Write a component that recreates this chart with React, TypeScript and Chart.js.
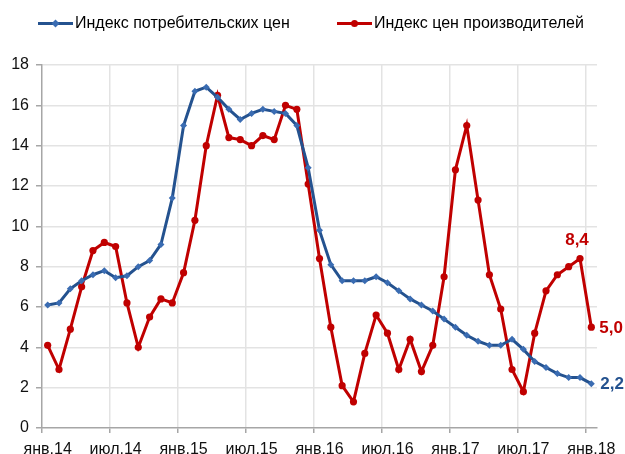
import React, { useEffect, useRef } from "react";
import { Chart, registerables } from "chart.js";

Chart.register(...registerables);

const months = ["янв", "фев", "мар", "апр", "май", "июн", "июл", "авг", "сен", "окт", "ноя", "дек"];
const categories: string[] = [];
for (let y = 14; y <= 18; y++) {
  for (let m = 0; m < 12; m++) {
    if (y === 18 && m > 0) break;
    categories.push(`${months[m]}.${y}`);
  }
}

const cpi = [
  6.1, 6.2, 6.9, 7.3, 7.6, 7.8, 7.45, 7.55, 8.0, 8.3, 9.1, 11.4,
  15.0, 16.7, 16.9, 16.4, 15.8, 15.3, 15.6, 15.8, 15.7, 15.6, 15.0, 12.9,
  9.8, 8.1, 7.3, 7.3, 7.3, 7.5, 7.2, 6.8, 6.4, 6.1, 5.8, 5.4,
  5.0, 4.6, 4.3, 4.1, 4.1, 4.4, 3.9, 3.3, 3.0, 2.7, 2.5, 2.5,
  2.2,
];

const ppi = [
  4.1, 2.9, 4.9, 7.0, 8.8, 9.2, 9.0, 6.2, 4.0, 5.5, 6.4, 6.2,
  7.7, 10.3, 14.0, 16.5, 14.4, 14.3, 14.0, 14.5, 14.3, 16.0, 15.8, 12.1,
  8.4, 5.0, 2.1, 1.3, 3.7, 5.6, 4.7, 2.9, 4.4, 2.8, 4.1, 7.5,
  12.8, 15.0, 11.3, 7.6, 5.9, 2.9, 1.8, 4.7, 6.8, 7.6, 8.0, 8.4,
  5.0,
];

const seriesNames = ["Индекс потребительских цен", "Индекс цен производителей"];

const BLUE = "#24528f";
const BLUE_PT = "#3a6cb2";
const RED = "#c00000";
const FONT = "'Liberation Sans', Arial, sans-serif";

const legendPlugin = {
  id: "customLegend",
  afterDraw(chart: any) {
    const ctx = chart.ctx;
    const items = [
      { x: 38, text: seriesNames[0], color: BLUE, pt: BLUE_PT, diamond: true },
      { x: 337, text: seriesNames[1], color: RED, pt: RED, diamond: false },
    ];
    const y = 23.5;
    ctx.save();
    for (const it of items) {
      ctx.strokeStyle = it.color;
      ctx.lineWidth = 3;
      ctx.beginPath();
      ctx.moveTo(it.x, y);
      ctx.lineTo(it.x + 35, y);
      ctx.stroke();
      const cx = it.x + 17.5;
      ctx.fillStyle = it.pt;
      ctx.beginPath();
      if (it.diamond) {
        ctx.moveTo(cx, y - 4);
        ctx.lineTo(cx + 4, y);
        ctx.lineTo(cx, y + 4);
        ctx.lineTo(cx - 4, y);
        ctx.closePath();
      } else {
        ctx.arc(cx, y, 3.5, 0, Math.PI * 2);
      }
      ctx.fill();
      ctx.fillStyle = "#000";
      ctx.font = `16px ${FONT}`;
      ctx.textBaseline = "middle";
      ctx.textAlign = "left";
      ctx.fillText(it.text, it.x + 37, y + 0.5);
    }
    ctx.restore();
  },
};

const labelPlugin = {
  id: "endLabels",
  afterDatasetsDraw(chart: any) {
    const ctx = chart.ctx;
    const mBlue = chart.getDatasetMeta(0).data;
    const mRed = chart.getDatasetMeta(1).data;
    const n = categories.length;
    ctx.save();
    ctx.font = `bold 17px ${FONT}`;
    ctx.textBaseline = "middle";
    const p84 = mRed[n - 2];
    ctx.fillStyle = RED;
    ctx.textAlign = "center";
    ctx.fillText(String(ppi[n - 2]).replace(".", ","), p84.x - 3, p84.y - 18);
    const p50 = mRed[n - 1];
    ctx.textAlign = "left";
    ctx.fillText(ppi[n - 1].toFixed(1).replace(".", ","), p50.x + 8, p50.y + 1);
    const p22 = mBlue[n - 1];
    ctx.fillStyle = BLUE;
    ctx.fillText(cpi[n - 1].toFixed(1).replace(".", ","), p22.x + 9, p22.y + 1);
    ctx.restore();
  },
};

export default function App() {
  const ref = useRef<HTMLCanvasElement | null>(null);
  useEffect(() => {
    document.body.style.margin = "0";
    const canvas = ref.current!;
    const chart = new Chart(canvas, {
      type: "line",
      data: {
        labels: categories,
        datasets: [
          {
            label: seriesNames[0],
            data: cpi,
            borderColor: BLUE,
            backgroundColor: BLUE_PT,
            borderWidth: 3,
            pointStyle: "rectRot",
            pointRadius: 3.5,
            pointBackgroundColor: BLUE_PT,
            pointBorderColor: BLUE_PT,
            pointBorderWidth: 0,
            tension: 0,
          },
          {
            label: seriesNames[1],
            data: ppi,
            borderColor: RED,
            backgroundColor: RED,
            borderWidth: 3,
            pointStyle: "circle",
            pointRadius: 3.6,
            pointBackgroundColor: RED,
            pointBorderColor: RED,
            pointBorderWidth: 0,
            tension: 0,
          },
        ],
      },
      options: {
        animation: false,
        responsive: false,
        maintainAspectRatio: false,
        layout: { padding: { top: 65, right: 28, left: 0, bottom: 0 } },
        plugins: {
          legend: { display: false },
          tooltip: { enabled: false },
        },
        scales: {
          x: {
            type: "category",
            offset: true,
            afterFit(scale: any) {
              scale.height = 26;
            },
            grid: {
              offset: true,
              drawOnChartArea: true,
              color: (c: any) => (c.index !== undefined && c.index % 6 === 0 && c.index !== 0 ? "#e3e3e3" : "rgba(0,0,0,0)"),
              tickColor: (c: any) => (c.index !== undefined && c.index % 6 === 0 ? "#a6a6a6" : "rgba(0,0,0,0)"),
              tickLength: 5,
              lineWidth: 1.5,
            },
            border: { display: true, color: "#a6a6a6", width: 1.5 },
            ticks: {
              autoSkip: false,
              maxRotation: 0,
              minRotation: 0,
              padding: 7,
              color: "#111",
              font: { family: FONT, size: 16 },
              callback: (_v: any, i: number) => (i % 6 === 0 ? categories[i] : ""),
            },
          },
          y: {
            min: 0,
            max: 18,
            afterFit(scale: any) {
              scale.width = 42;
            },
            grid: {
              color: (c: any) => (c.tick && c.tick.value === 0 ? "rgba(0,0,0,0)" : "#e3e3e3"),
              tickColor: "#a6a6a6",
              tickLength: 6,
              lineWidth: 1.5,
            },
            border: { display: true, color: "#a6a6a6", width: 1.5 },
            ticks: {
              stepSize: 2,
              padding: 7,
              color: "#111",
              font: { family: FONT, size: 16 },
            },
          },
        },
      },
      plugins: [legendPlugin, labelPlugin],
    });
    return () => chart.destroy();
  }, []);
  return <canvas ref={ref} width={625} height={454} style={{ display: "block" }} />;
}
